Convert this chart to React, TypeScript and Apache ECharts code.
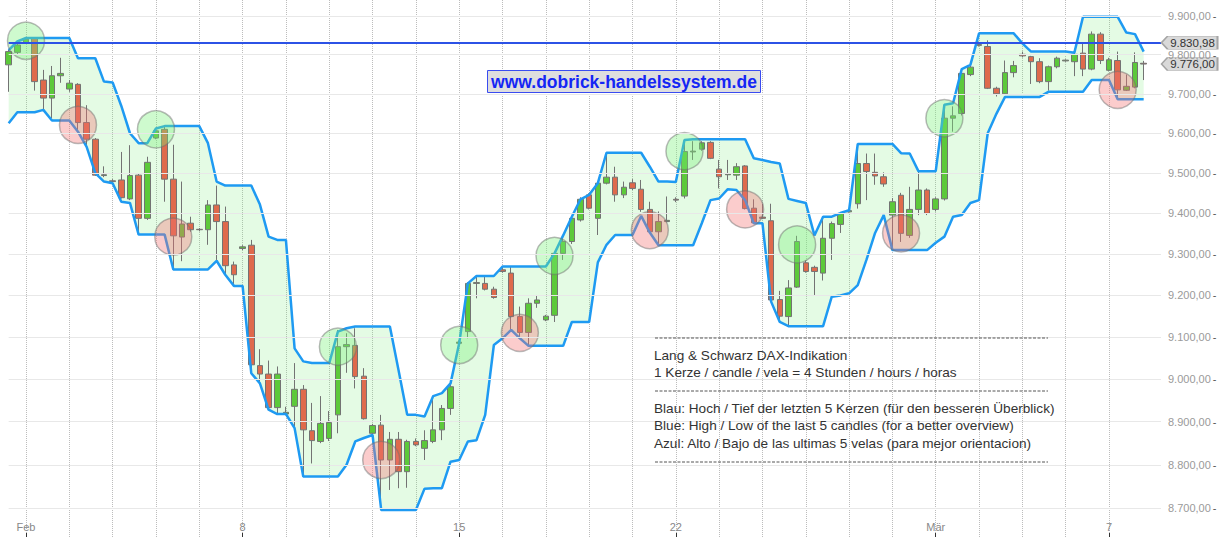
import React, { useEffect, useRef } from 'react';
import * as echarts from 'echarts';

// ---------- categories (4h candles, 5 per trading day) ----------
const tradingDays = [
  '29.01', '01.02', '02.02', '03.02', '04.02', '05.02', '08.02', '09.02', '10.02', '11.02', '12.02',
  '15.02', '16.02', '17.02', '18.02', '19.02', '22.02', '23.02', '24.02', '25.02', '26.02', '29.02',
  '01.03', '02.03', '03.03', '04.03', '07.03',
];
const slotTimes = ['04:00', '08:00', '12:00', '16:00', '20:00'];
const firstDayVisibleSlots = 2;
const paddingCategories = ['pad-1', 'pad-2'];

const tickDays = ['01.02', '08.02', '15.02', '22.02', '01.03', '07.03'];
const tickLabels = ['Feb', '8', '15', '22', 'Mär', '7'];

// ---------- OHLC ----------
const opens = [
  9774, 9806, 9831, 9842, 9735, 9689, 9746, 9712, 9724, 9627,
  9585, 9494, 9481, 9483, 9436, 9495, 9388, 9588, 9610, 9485,
  9342, 9376, 9361, 9360, 9421, 9380, 9274, 9314, 9322, 9032,
  9012, 8933, 8918, 8936, 8976, 8879, 8854, 8861, 8916, 9077,
  9080, 9007, 8873, 8892, 8811, 8859, 8784, 8854, 8838, 8854,
  8881, 8931, 9085, 9113, 9229, 9229, 9215, 9262, 9254, 9149,
  9111, 9181, 9141, 9152, 9302, 9331, 9384, 9446, 9388, 9475,
  9490, 9446, 9476, 9460, 9410, 9355, 9380, 9435, 9443, 9553,
  9560, 9577, 9510, 9496, 9495, 9518, 9413, 9391, 9382, 9190,
  9149, 9220, 9279, 9268, 9254, 9339, 9373, 9404, 9424, 9524,
  9502, 9491, 9396, 9445, 9346, 9410, 9458, 9410, 9436, 9638,
  9650, 9749, 9824, 9821, 9714, 9700, 9754, 9801, 9795, 9782,
  9731, 9769, 9784, 9782, 9804, 9763, 9853, 9760, 9785, 9709,
  9717, 9778,
];
const closes = [
  9808, 9825, 9840, 9731, 9689, 9746, 9752, 9727, 9627, 9585,
  9495, 9496, 9479, 9439, 9494, 9388, 9527, 9606, 9485, 9345,
  9374, 9360, 9360, 9421, 9380, 9272, 9250, 9318, 9034, 9012,
  8933, 9012, 8922, 8976, 8881, 8856, 8896, 8898, 9077, 9082,
  9006, 8907, 8891, 8811, 8859, 8784, 8854, 8846, 8856, 8881,
  8931, 8982, 9088, 9229, 9231, 9215, 9195, 9258, 9149, 9111,
  9181, 9189, 9150, 9302, 9331, 9388, 9435, 9413, 9475, 9490,
  9446, 9465, 9462, 9410, 9355, 9380, 9383, 9433, 9554, 9555,
  9576, 9537, 9491, 9498, 9516, 9412, 9377, 9388, 9189, 9150,
  9218, 9331, 9258, 9258, 9339, 9375, 9400, 9407, 9524, 9504,
  9493, 9473, 9429, 9351, 9410, 9458, 9400, 9436, 9638, 9644,
  9752, 9768, 9826, 9714, 9700, 9754, 9772, 9797, 9782, 9731,
  9769, 9791, 9786, 9801, 9763, 9853, 9785, 9787, 9710, 9719,
  9780, 9776,
];
const lows = [
  9705, 9800, 9828, 9708, 9659, 9638, 9728, 9705, 9604, 9566,
  9493, 9490, 9475, 9437, 9433, 9355, 9384, 9585, 9429, 9265,
  9283, 9355, 9356, 9323, 9286, 9250, 9223, 9310, 9014, 8990,
  8928, 8918, 8915, 8885, 8773, 8803, 8850, 8855, 8873, 9015,
  8978, 8905, 8870, 8696, 8742, 8746, 8747, 8843, 8811, 8850,
  8857, 8916, 9080, 9097, 9193, 9212, 9192, 9255, 9117, 9097,
  9079, 9170, 9138, 9136, 9286, 9325, 9380, 9410, 9347, 9472,
  9429, 9438, 9458, 9404, 9353, 9322, 9378, 9428, 9437, 9533,
  9556, 9535, 9462, 9483, 9483, 9410, 9375, 9386, 9185, 9136,
  9126, 9218, 9255, 9201, 9236, 9286, 9352, 9402, 9412, 9433,
  9471, 9466, 9310, 9330, 9340, 9396, 9396, 9405, 9432, 9604,
  9645, 9745, 9821, 9712, 9693, 9697, 9742, 9793, 9725, 9727,
  9708, 9765, 9782, 9745, 9745, 9760, 9776, 9757, 9686, 9707,
  9714, 9735,
];
const highs = [
  9812, 9834, 9843, 9845, 9761, 9771, 9792, 9735, 9727, 9671,
  9588, 9517, 9485, 9553, 9570, 9498, 9541, 9612, 9618, 9571,
  9479, 9392, 9364, 9433, 9469, 9417, 9282, 9322, 9335, 9071,
  9044, 9030, 8935, 9038, 8986, 8944, 8960, 8925, 9117, 9109,
  9121, 9026, 8895, 8916, 8876, 8876, 8858, 8861, 8880, 8960,
  8939, 8986, 9092, 9232, 9245, 9245, 9221, 9270, 9270, 9173,
  9193, 9201, 9153, 9305, 9346, 9392, 9440, 9450, 9478, 9551,
  9516, 9479, 9485, 9483, 9429, 9405, 9442, 9440, 9583, 9580,
  9580, 9580, 9533, 9533, 9525, 9520, 9435, 9424, 9424, 9211,
  9237, 9345, 9285, 9272, 9393, 9380, 9403, 9409, 9572, 9549,
  9549, 9502, 9438, 9451, 9466, 9503, 9462, 9440, 9672, 9668,
  9756, 9772, 9834, 9837, 9718, 9785, 9784, 9808, 9797, 9791,
  9772, 9795, 9788, 9805, 9830, 9860, 9858, 9792, 9808, 9749,
  9806, 9784,
];

// ---------- blue channel: high / low of the last 5 candles ----------
const upperBand = [
  9812, 9834, 9843, 9843, 9843, 9843, 9843, 9843, 9791, 9791,
  9791, 9731, 9729, 9669, 9600, 9575, 9575, 9612, 9618, 9618,
  9618, 9618, 9618, 9575, 9479, 9469, 9469, 9469, 9469, 9422,
  9343, 9335, 9335, 9073, 9042, 9038, 9038, 9038, 9113, 9121,
  9125, 9125, 9125, 9125, 9125, 9021, 8916, 8916, 8912, 8960,
  8967, 8990, 9085, 9229, 9247, 9247, 9247, 9270, 9270, 9270,
  9270, 9270, 9270, 9302, 9346, 9392, 9435, 9446, 9475, 9551,
  9551, 9551, 9551, 9551, 9516, 9479, 9479, 9478, 9583, 9585,
  9585, 9585, 9585, 9585, 9585, 9585, 9537, 9533, 9528, 9524,
  9436, 9431, 9426, 9346, 9392, 9392, 9401, 9408, 9573, 9573,
  9573, 9573, 9573, 9550, 9549, 9505, 9505, 9505, 9672, 9676,
  9763, 9774, 9855, 9855, 9855, 9855, 9855, 9829, 9808, 9808,
  9808, 9808, 9808, 9805, 9898, 9898, 9898, 9898, 9898, 9857,
  9853, 9808,
];
const lowerBand = [
  9625, 9653, 9653, 9653, 9659, 9632, 9632, 9632, 9604, 9566,
  9500, 9479, 9475, 9429, 9426, 9348, 9348, 9348, 9348, 9263,
  9263, 9263, 9263, 9263, 9284, 9250, 9223, 9223, 9014, 8990,
  8928, 8918, 8918, 8885, 8773, 8773, 8773, 8773, 8773, 8800,
  8854, 8862, 8869, 8696, 8696, 8696, 8696, 8696, 8745, 8746,
  8746, 8807, 8811, 8854, 8857, 8916, 9081, 9097, 9117, 9097,
  9079, 9079, 9079, 9079, 9079, 9136, 9136, 9136, 9280, 9323,
  9347, 9347, 9347, 9394, 9353, 9322, 9322, 9322, 9322, 9322,
  9376, 9433, 9437, 9460, 9458, 9433, 9376, 9376, 9185, 9136,
  9126, 9126, 9126, 9126, 9126, 9197, 9200, 9205, 9225, 9286,
  9352, 9396, 9310, 9310, 9310, 9310, 9310, 9328, 9343, 9392,
  9396, 9426, 9433, 9600, 9649, 9692, 9692, 9692, 9692, 9692,
  9705, 9705, 9705, 9705, 9705, 9735, 9735, 9735, 9686, 9686,
  9686, 9686,
];

// ---------- signal circles ----------
const signalIndex = [2, 8, 17, 19, 38, 43, 52, 59, 63, 74, 78, 85, 91, 103, 108, 128];
const signalPrice = [9836, 9621, 9610, 9343, 9077, 8811, 9081, 9110, 9296, 9359, 9555, 9410, 9324, 9351, 9638, 9710];
const signalType = ['buy', 'sell', 'buy', 'sell', 'buy', 'sell', 'buy', 'sell', 'buy', 'sell', 'buy', 'sell', 'buy', 'sell', 'buy', 'sell'];

// ---------- levels ----------
const gridLevels = [8700, 8800, 8900, 9000, 9100, 9200, 9300, 9400, 9500, 9600, 9700, 9800, 9900];
const referenceLevel = 9830.98;
const lastPrice = 9776;
const yAxisMin = 8634.7;
const yAxisMax = 9941.7;

const annotationLines = [
  'Lang & Schwarz DAX-Indikation',
  '1 Kerze / candle / vela = 4 Stunden / hours / horas',
  'Blau: Hoch / Tief der letzten 5 Kerzen (für den besseren Überblick)',
  'Blue: High / Low of the last 5 candles (for a better overview)',
  'Azul: Alto / Bajo de las ultimas 5 velas (para mejor orientacion)',
];
const siteUrl = 'www.dobrick-handelssystem.de';

const FONT = '"Liberation Sans", Arial, Helvetica, sans-serif';

function buildCategories(): string[] {
  const cats: string[] = [];
  tradingDays.forEach((d, k) => {
    const slots = k === 0 ? slotTimes.slice(slotTimes.length - firstDayVisibleSlots) : slotTimes;
    slots.forEach((s) => cats.push(`${d} ${s}`));
  });
  return cats.concat(paddingCategories);
}

function fmtDE(v: number): string {
  const [a, b] = v.toFixed(2).split('.');
  return a.replace(/\B(?=(\d{3})+(?!\d))/g, '.') + ',' + b;
}

export default function App() {
  const ref = useRef<HTMLDivElement>(null);

  useEffect(() => {
    if (!ref.current) return;
    const chart = echarts.init(ref.current, undefined, { renderer: 'svg' });
    const categories = buildCategories();
    const lastCat = categories[categories.length - 1];
    const tickMap: Record<string, string> = {};
    tickDays.forEach((d, k) => {
      tickMap[`${d} ${slotTimes[0]}`] = tickLabels[k];
    });
    const isTick = (_i: number, v: string) => tickMap[v] !== undefined;
    const isDayStart = (_i: number, v: string) => typeof v === 'string' && v.endsWith(' ' + slotTimes[0]);

    const candleData = opens.map((o, i) => [o, closes[i], lows[i], highs[i]]);

    const annotationY = [355, 372.7, 408.3, 425.7, 443.3];
    const dashY = [338, 391, 462];

    const graphic: any[] = [
      {
        type: 'rect',
        z: 100,
        shape: { x: 487.5, y: 70.5, width: 273, height: 22 },
        style: { fill: '#dedede', stroke: '#3a4cf0', lineWidth: 1 },
      },
      {
        type: 'text',
        z: 101,
        x: 624,
        y: 82,
        style: {
          text: siteUrl,
          fill: '#1426f5',
          font: `bold 17.5px ${FONT}`,
          align: 'center',
          verticalAlign: 'middle',
          textAlign: 'center',
          textVerticalAlign: 'middle',
        },
      },
      ...dashY.map((y) => ({
        type: 'line',
        z: 100,
        shape: { x1: 655, y1: y, x2: 1048, y2: y },
        style: { stroke: '#555', lineWidth: 1, lineDash: [3, 1.5] },
      })),
      ...annotationLines.map((t, k) => ({
        type: 'text',
        z: 101,
        x: 654,
        y: annotationY[k],
        style: {
          text: t,
          fill: '#333',
          font: `13.6px ${FONT}`,
          align: 'left',
          verticalAlign: 'middle',
          textAlign: 'left',
          textVerticalAlign: 'middle',
        },
      })),
    ];

    const option: any = {
      animation: false,
      textStyle: { fontFamily: FONT },
      grid: { left: 8.67, right: 65, top: 0, bottom: 0 },
      xAxis: {
        type: 'category',
        data: categories,
        boundaryGap: false,
        axisLine: { show: false },
        axisTick: {
          show: true,
          inside: true,
          length: 4,
          interval: isTick,
          lineStyle: { color: '#333' },
        },
        axisLabel: {
          show: true,
          inside: true,
          margin: 5,
          interval: isTick,
          formatter: (v: string) => tickMap[v] ?? '',
          color: '#888',
          fontSize: 11,
          fontFamily: FONT,
        },
        splitLine: {
          show: true,
          interval: isDayStart,
          lineStyle: { type: 'dotted', color: '#bcbcbc', width: 1 },
        },
      },
      yAxis: {
        type: 'log',
        logBase: 10,
        min: yAxisMin,
        max: yAxisMax,
        show: false,
      },
      series: [
        {
          type: 'custom',
          name: 'band',
          z: 1,
          clip: false,
          silent: true,
          data: [[0, upperBand[0]]],
          encode: { x: 0, y: 1 },
          renderItem: (_params: any, api: any) => {
            const pts: number[][] = [];
            for (let i = 0; i < upperBand.length; i++) pts.push(api.coord([i, upperBand[i]]));
            for (let i = lowerBand.length - 1; i >= 0; i--) pts.push(api.coord([i, lowerBand[i]]));
            return {
              type: 'polygon',
              shape: { points: pts },
              style: { fill: 'rgba(110,235,110,0.19)' },
            };
          },
          markLine: {
            silent: true,
            symbol: ['none', 'none'],
            animation: false,
            lineStyle: { color: '#e8e8e8', width: 1.2, type: 'solid' },
            label: {
              show: true,
              position: 'end',
              distance: 7,
              formatter: (p: any) => `{v|${fmtDE(p.value)}}{d|-}`,
              rich: {
                v: { color: '#9a9a9a', fontSize: 11, fontFamily: FONT },
                d: { color: '#555', fontSize: 11, fontFamily: FONT, padding: [0, 0, 0, 2] },
              },
            },
            emphasis: { disabled: true },
            data: gridLevels.map((v) => ({ yAxis: v })),
          },
        },
        {
          type: 'candlestick',
          name: 'DAX',
          z: 2,
          silent: true,
          barWidth: 6,
          data: candleData,
          itemStyle: {
            color: '#5cc93a',
            color0: '#df6a4c',
            borderColor: '#737373',
            borderColor0: '#737373',
            borderWidth: 1,
          },
        },
        {
          type: 'line',
          name: 'lower',
          z: 3,
          clip: false,
          silent: true,
          symbol: 'none',
          data: lowerBand,
          lineStyle: { color: '#1e9af2', width: 2.5 },
        },
        {
          type: 'line',
          name: 'upper',
          z: 3,
          clip: false,
          silent: true,
          symbol: 'none',
          data: upperBand,
          lineStyle: { color: '#1e9af2', width: 2.5 },
          markLine: {
            silent: true,
            symbol: ['none', 'none'],
            animation: false,
            lineStyle: { color: '#2c52e6', width: 2, type: 'solid' },
            label: { show: false },
            emphasis: { disabled: true },
            data: [{ yAxis: referenceLevel }],
          },
          markPoint: {
            silent: true,
            animation: false,
            symbol: 'path://M0,6.5L6,0L56,0L56,13L6,13Z',
            symbolSize: [56, 13],
            symbolKeepAspect: false,
            symbolOffset: [28.5, 0],
            itemStyle: { color: '#d9d9d9', borderColor: '#a5a5a5', borderWidth: 1 },
            label: {
              show: true,
              position: 'inside',
              offset: [3, 0],
              color: '#333',
              fontSize: 11.5,
              fontFamily: FONT,
              formatter: (p: any) => fmtDE(p.value),
            },
            data: [
              { coord: [lastCat, referenceLevel], value: referenceLevel },
              { coord: [lastCat, lastPrice], value: lastPrice },
            ],
          },
        },
        {
          type: 'scatter',
          name: 'signals',
          z: 4,
          clip: false,
          silent: true,
          symbolSize: 37,
          data: signalIndex.map((ix, k) => ({
            value: [categories[ix], signalPrice[k]],
            itemStyle: {
              color: signalType[k] === 'buy' ? 'rgba(120,240,120,0.45)' : 'rgba(245,115,115,0.45)',
            },
          })),
          itemStyle: { borderColor: 'rgba(110,110,110,0.6)', borderWidth: 1.5 },
        },
      ],
      graphic,
    };

    chart.setOption(option);
    return () => chart.dispose();
  }, []);

  return (
    <div
      ref={ref}
      style={{ position: 'fixed', left: 0, top: 0, width: 1226, height: 537, background: '#fff' }}
    />
  );
}
